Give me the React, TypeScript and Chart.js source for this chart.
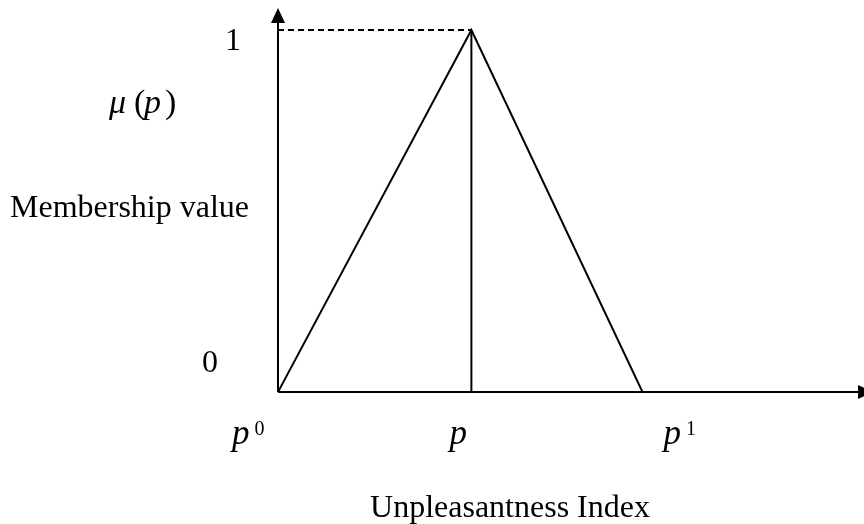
import React, { useEffect, useRef } from "react";
import { Chart, registerables } from "chart.js";

Chart.register(...registerables);

// ---- data ----
const xPoints = [0, 0.33, 0.622]; // p0, p-hat, p1
const yPoints = [0, 1, 0]; // triangular membership
const peakLineX = [0.33, 0.33];
const peakLineY = [0, 1];
const dashedX = [0, 0.33];
const dashedY = [1, 1];
const yTickValues = [0, 1];
const yTickLabels = ["0", "1"];
const xTickBase = ["p", "p", "p"];
const xTickSup = ["0", "", "1"];
const yTitle = "Membership value";
const yFuncLabel = ["μ", "(", "p", ")"];
const xTitle = "Unpleasantness Index";

const X_MAX = 1.0;
const Y_MAX = 1.061;

const SERIF = '"Liberation Serif", "Times New Roman", serif';

const axesPlugin = {
  id: "axesPlugin",
  afterDraw(chart: any) {
    const ctx = chart.ctx;
    const xs = chart.scales.x;
    const ys = chart.scales.y;
    const x0 = xs.getPixelForValue(0);
    const y0 = ys.getPixelForValue(0);
    const yTop = ys.getPixelForValue(Y_MAX);
    const xRight = xs.getPixelForValue(X_MAX);
    ctx.save();
    ctx.strokeStyle = "#000";
    ctx.fillStyle = "#000";
    ctx.lineWidth = 2;
    // y axis
    ctx.beginPath();
    ctx.moveTo(x0, y0);
    ctx.lineTo(x0, yTop + 14);
    ctx.stroke();
    ctx.beginPath();
    ctx.moveTo(x0, yTop);
    ctx.lineTo(x0 - 7, yTop + 15);
    ctx.lineTo(x0 + 7, yTop + 15);
    ctx.closePath();
    ctx.fill();
    // x axis
    ctx.beginPath();
    ctx.moveTo(x0, y0);
    ctx.lineTo(xRight - 5, y0);
    ctx.stroke();
    ctx.beginPath();
    ctx.moveTo(xRight + 9, y0);
    ctx.lineTo(xRight - 6, y0 - 7);
    ctx.lineTo(xRight - 6, y0 + 7);
    ctx.closePath();
    ctx.fill();

    // y tick labels
    ctx.textBaseline = "alphabetic";
    ctx.textAlign = "center";
    ctx.font = `32px ${SERIF}`;
    yTickValues.forEach((v, i) => {
      const py = ys.getPixelForValue(v);
      if (v === 0) ctx.fillText(yTickLabels[i], x0 - 68, py - 20);
      else ctx.fillText(yTickLabels[i], x0 - 45, py + 20);
    });

    // y titles
    ctx.textAlign = "left";
    ctx.font = `32px ${SERIF}`;
    ctx.fillText(yTitle, 10, 217);
    const fx = [109, 134, 144, 165];
    yFuncLabel.forEach((s, i) => {
      const italic = s === "μ" || s === "p";
      ctx.font = `${italic ? "italic " : ""}34px ${SERIF}`;
      ctx.fillText(s, fx[i], 113);
    });

    // x tick labels
    const xOffsets = [-46, -22, 21];
    xPoints.forEach((v, i) => {
      const px = xs.getPixelForValue(v) + xOffsets[i];
      ctx.font = `italic 35px ${SERIF}`;
      ctx.fillText(xTickBase[i], px, 444);
      if (xTickSup[i]) {
        const w = ctx.measureText(xTickBase[i]).width;
        ctx.font = `20px ${SERIF}`;
        ctx.fillText(xTickSup[i], px + w + 5, 435);
      }
    });

    // x title
    ctx.textAlign = "center";
    ctx.font = `32px ${SERIF}`;
    ctx.fillText(xTitle, 510, 517);
    ctx.restore();
  },
};

export default function App() {
  const ref = useRef<HTMLCanvasElement | null>(null);
  useEffect(() => {
    document.body.style.margin = "0";
    const canvas = ref.current;
    if (!canvas) return;
    const mk = (xa: number[], ya: number[]) => xa.map((x, i) => ({ x, y: ya[i] }));
    const chart = new Chart(canvas, {
      type: "scatter",
      data: {
        datasets: [
          {
            data: mk(xPoints, yPoints),
            showLine: true,
            borderColor: "#000",
            borderWidth: 2,
            pointRadius: 0,
            tension: 0,
          },
          {
            data: mk(peakLineX, peakLineY),
            showLine: true,
            borderColor: "#000",
            borderWidth: 2,
            pointRadius: 0,
          },
          {
            data: mk(dashedX, dashedY),
            showLine: true,
            borderColor: "#000",
            borderWidth: 2,
            borderDash: [6, 4],
            pointRadius: 0,
          },
        ],
      },
      options: {
        responsive: false,
        animation: false,
        layout: { padding: { left: 278, right: 0, top: 8, bottom: 132 } },
        plugins: { legend: { display: false }, tooltip: { enabled: false } },
        scales: {
          x: { type: "linear", min: 0, max: X_MAX, display: false },
          y: { type: "linear", min: 0, max: Y_MAX, display: false },
        },
      },
      plugins: [axesPlugin],
    } as any);
    return () => chart.destroy();
  }, []);
  return (
    <div style={{ width: 864, height: 524, background: "#fff" }}>
      <canvas ref={ref} width={864} height={524} style={{ display: "block" }} />
    </div>
  );
}
